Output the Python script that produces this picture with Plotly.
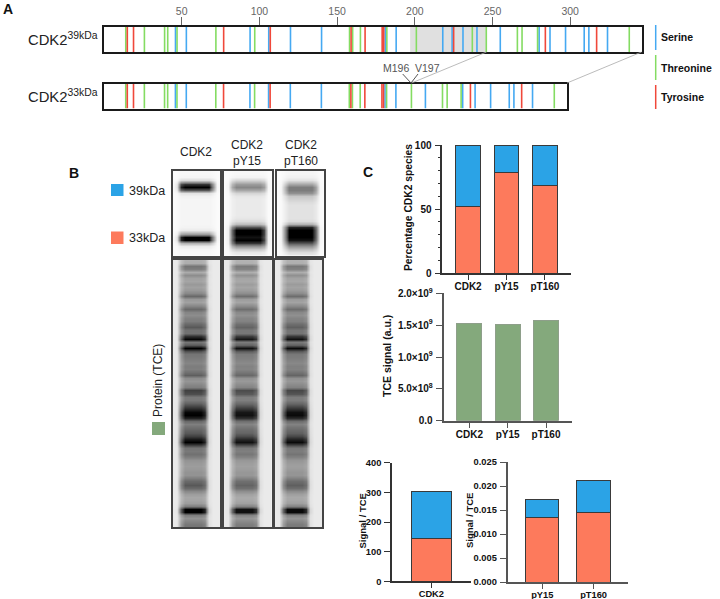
import numpy as np
import plotly.graph_objects as go

W, H = 720, 599
FONT = "Liberation Sans"
BLUE, SALMON, GREEN = "#2ba3e6", "#fd7a5c", "#84a97c"
SER, THR, TYR = "#45a9f2", "#84dc62", "#f0483a"

# ---------- panel A: residue positions ----------
long_ser = [46, 53, 94, 106, 120, 140, 181, 188, 218, 224, 231, 240, 255, 280, 287, 297, 309, 312, 324]
long_thr = [14, 26, 39, 41, 47, 72, 97, 158, 160, 165, 182, 201, 237, 246, 266, 269, 279, 338]
long_tyr = [15, 19, 77, 107, 159, 168, 179, 180, 225, 284, 317]
short_ser = [46, 53, 94, 106, 120, 140, 181, 188, 207, 231, 239, 249, 261, 264, 276]
short_thr = [14, 26, 39, 41, 47, 72, 97, 158, 160, 165, 182, 198, 218, 221, 230, 290]
short_tyr = [15, 19, 77, 107, 159, 168, 179, 180, 236, 269]
ruler_ticks = [50, 100, 150, 200, 250, 300]

# ---------- panel B: gel darkness read down each lane (rows every 3 px) ----------
blot_cdk2 = [.02,.02,.03,.15,.85,1,.75,.12,.05,.03,.03,.03,.03,.03,.03,.03,.03,.03,.04,.08,.45,1,1,.35,.08,.03,.02,.02]
blot_py15 = [.02,.02,.04,.18,.45,.55,.4,.18,.1,.08,.08,.08,.08,.08,.08,.1,.15,.3,.75,1,1,.95,1,.85,.5,.25,.1,.05]
blot_pt160 = [.03,.03,.05,.12,.4,.6,.6,.5,.25,.2,.15,.12,.12,.12,.12,.12,.15,.35,.9,1,1,1,.95,.75,.5,.3,.15,.07]
blot_widths = [
    [0,.1,.9,1,1,1,1,1,1,1,.55,.03,0],
    [0,.05,.7,1,1,1,1,1,1,1,.8,.05,0],
    [0,.03,.5,1,1,1,1,1,1,1,.7,.03,0],
]
tce_lane = [.30,.32,.6,.55,.33,.48,.38,.36,.42,.38,.42,.5,.66,.42,.38,.52,.66,.52,.48,.54,.56,.66,.72,.62,.62,
            .85,.98,.6,.72,1,.75,.6,.58,.55,.52,.56,.55,.62,.7,.48,.44,.5,.55,.8,.75,.58,.58,.68,.78,.88,.98,1,
            .9,.66,.55,.62,.68,.72,.8,.92,1,.8,.6,.58,.62,.55,.45,.42,.4,.42,.45,.45,.55,.66,.72,.66,.5,.4,.35,
            .36,.4,.55,1,1,.55,.45,.52,.58,.6]
tce_width = [0,.02,.7,1,1,1,1,1,.9,.1,0,0,0]
tce_gain = [1.0, .95, .97]

# ---------- panel C: bar values ----------
cats = ["CDK2", "pY15", "pT160"]
pct_33 = [51.8, 78.6, 68.5]
pct_39 = [48.2, 21.4, 31.5]
tce_signal = [1.529e9, 1.503e9, 1.576e9]
cdk2_33 = [142.7]
cdk2_39 = [159.3]
phospho_cats = ["pY15", "pT160"]
phospho_33 = [0.01347, 0.01444]
phospho_39 = [0.00375, 0.00666]

fig = go.Figure()
layout = {}
n_axes = [0]


def fx(p):
    return p / W


def fy(p):
    return 1 - p / H


def axes(x0, x1, y0, y1):
    n_axes[0] += 1
    i = n_axes[0]
    s = "" if i == 1 else str(i)
    return "x" + s, "y" + s, "xaxis" + s, "yaxis" + s, [fx(x0), fx(x1)], [fy(y1), fy(y0)]


def seq_panel(box, xmax, sets, ruler):
    xr, yr, xk, yk, dx, dy = axes(*box)
    for res, col in sets:
        xs, ys = [], []
        for r in res:
            xs += [r, r, None]
            ys += [0, 1, None]
        fig.add_trace(go.Scatter(x=xs, y=ys, xaxis=xr, yaxis=yr, mode="lines",
                                 line=dict(color=col, width=1.6), hoverinfo="skip"))
    layout[xk] = dict(domain=dx, range=[0, xmax], anchor=yr, side="top", showgrid=False, zeroline=False, automargin=False,
                      showline=True, mirror=True, linecolor="#1a1a1a", linewidth=1.6,
                      ticks="outside" if ruler else "", ticklen=8, tickcolor="#666", tickwidth=1,
                      ticklabelstandoff=-2,
                      tickvals=ruler_ticks if ruler else [], showticklabels=ruler,
                      tickfont=dict(size=10.5, color="#666", family=FONT))
    layout[yk] = dict(domain=dy, range=[0, 1], anchor=xr, showgrid=False, zeroline=False, showline=True, automargin=False,
                      mirror=True, linecolor="#1a1a1a", linewidth=1.6, ticks="", showticklabels=False)


seq_panel((104, 641.7, 26.5, 52), 346, [(long_ser, SER), (long_thr, THR), (long_tyr, TYR)], True)
seq_panel((104, 566.7, 83.5, 108.5), 298, [(short_ser, SER), (short_thr, THR), (short_tyr, TYR)], False)


def gel(box, rows, widths, bg):
    xr, yr, xk, yk, dx, dy = axes(*box)
    z = bg + (1 - bg) * np.outer(np.array(rows), np.array(widths))
    fig.add_trace(go.Heatmap(z=z, x=list(range(0, 4 * len(widths), 4)), y=list(range(len(rows))),
                             xaxis=xr, yaxis=yr, zmin=0, zmax=1, zsmooth="best", showscale=False,
                             colorscale=[[0, "#fbfbfb"], [0.35, "#b2b2b2"], [0.7, "#666666"], [0.9, "#242424"], [1, "#000000"]],
                             hoverinfo="skip"))
    layout[xk] = dict(domain=dx, range=[0, 4 * (len(widths) - 1)], anchor=yr, showgrid=False, zeroline=False, automargin=False,
                      showline=True, mirror=True, linecolor="#444", linewidth=1.5, ticks="", showticklabels=False)
    layout[yk] = dict(domain=dy, range=[len(rows) - 1, 0], anchor=xr, showgrid=False, zeroline=False, automargin=False,
                      showline=True, mirror=True, linecolor="#444", linewidth=1.5, ticks="", showticklabels=False)


for box, rows, w in zip([(172.7, 220.3), (224, 272), (276.7, 324)], [blot_cdk2, blot_py15, blot_pt160], blot_widths):
    gel((box[0], box[1], 171, 255.5), rows, w, 0.0)
for box, g in zip([(172.7, 220.3), (224, 271.7), (275, 322)], tce_gain):
    gel((box[0], box[1], 260, 527), [v * g for v in tce_lane], tce_width, 0.08)


def bar_panel(box, xvals, xrange, series, yrange, tickvals, ticktext, size=10, minor=None, edge="#3a3a3a",
              lw=1.5, lc="#333"):
    xr, yr, xk, yk, dx, dy = axes(*box)
    for vals, col in series:
        fig.add_trace(go.Bar(x=xvals, y=vals, xaxis=xr, yaxis=yr, marker=dict(color=col, line=dict(color=edge, width=1)),
                             width=0.65, hoverinfo="skip"))
    tf = dict(size=size, color="#111", family=FONT, weight="bold")
    layout[xk] = dict(domain=dx, range=xrange, anchor=yr, type="category", categoryorder="array", categoryarray=xvals,
                      showgrid=False, zeroline=False, showline=True, linecolor=lc, linewidth=lw, ticks="outside",
                      automargin=False, ticklen=5, tickwidth=1.4, tickcolor=lc, tickfont=tf, ticklabelstandoff=-2)
    yd = dict(domain=dy, range=yrange, anchor=xr, showgrid=False, zeroline=False, showline=True, linecolor=lc,
              automargin=False, linewidth=lw, ticks="outside", ticklen=6, tickwidth=1.4, tickcolor=lc, tickfont=tf,
              tickmode="array", tickvals=tickvals, ticktext=ticktext, ticklabelstandoff=1)
    if minor:
        yd["minor"] = dict(tickmode="array", tickvals=minor, ticks="outside", ticklen=3, tickwidth=1, tickcolor=lc)
    layout[yk] = yd


bar_panel((442.3, 570.7, 145, 273), cats, [-0.67, 2.67], [(pct_33, SALMON), (pct_39, BLUE)], [0, 100],
          [0, 50, 100], ["0", "50", "100"], minor=[10, 20, 30, 40, 60, 70, 80, 90])
bar_panel((443.7, 571.7, 293.3, 420.7), cats, [-0.67, 2.67], [(tce_signal, GREEN)], [0, 2e9],
          [0, 5e8, 1e9, 1.5e9, 2e9], ["0.0", "5.0×10<sup>8</sup>", "1.0×10<sup>9</sup>", "1.5×10<sup>9</sup>", "2.0×10<sup>9</sup>"],
          edge="#8e9f8a", lw=2, lc="#555")
bar_panel((392, 470.7, 462.7, 581.3), ["CDK2"], [-0.65, 0.65], [(cdk2_33, SALMON), (cdk2_39, BLUE)], [0, 400],
          [0, 100, 200, 300, 400], ["0", "100", "200", "300", "400"], size=9.3)
bar_panel((507.7, 627.7, 462, 582), phospho_cats, [-0.674, 1.665], [(phospho_33, SALMON), (phospho_39, BLUE)], [0, 0.025],
          [0, .005, .01, .015, .02, .025], ["0.000", "0.005", "0.010", "0.015", "0.020", "0.025"], size=9.3, lw=2, lc="#555")

ann = []


def txt(px, py, t, size=12, color="#222", anchor="center", bold=False, angle=0):
    ann.append(dict(xref="paper", yref="paper", x=fx(px), y=fy(py), text=t, showarrow=False, xanchor=anchor,
                    yanchor="middle", textangle=angle, font=dict(size=size, color=color, family=FONT,
                                                                 weight="bold" if bold else "normal")))


txt(1, 9, "A", 14, "#111", "left", True)
txt(67, 173, "B", 14, "#111", "left", True)
txt(361, 172, "C", 14, "#111", "left", True)
txt(100, 39, "CDK2<sup>39kDa</sup>", 14.8, "#222", "right")
txt(100, 96, "CDK2<sup>33kDa</sup>", 14.8, "#222", "right")
txt(396, 68, "M196", 10.5, "#555")
txt(427, 68, "V197", 10.5, "#555")
txt(658.5, 37.5, "Serine", 10.5, "#111", "left", True)
txt(658.5, 67.5, "Threonine", 10.5, "#111", "left", True)
txt(658.5, 97, "Tyrosine", 10.5, "#111", "left", True)
txt(196, 152, "CDK2", 12)
txt(247, 153, "CDK2<br>pY15", 12)
txt(300.5, 153, "CDK2<br>pT160", 12)
txt(127, 191, "39kDa", 12.5, anchor="left")
txt(127, 238, "33kDa", 12.5, anchor="left")
txt(158, 381, "Protein (TCE)", 12, angle=-90)
txt(409, 208, "Percentage CDK2 species", 10.3, "#111", bold=True, angle=-90)
txt(387, 356, "TCE signal (a.u.)", 10.5, "#111", bold=True, angle=-90)
txt(361.5, 521, "Signal / TCE", 9.5, "#111", bold=True, angle=-90)
txt(469, 521, "Signal / TCE", 9.5, "#111", bold=True, angle=-90)

shapes = []


def rect(x0, y0, x1, y1, col):
    shapes.append(dict(type="rect", xref="paper", yref="paper", x0=fx(x0), x1=fx(x1), y0=fy(y0), y1=fy(y1),
                       fillcolor=col, line=dict(width=0), layer="above"))


def seg(x0, y0, x1, y1, col, w=1):
    shapes.append(dict(type="line", xref="paper", yref="paper", x0=fx(x0), x1=fx(x1), y0=fy(y0), y1=fy(y1),
                       line=dict(color=col, width=w), layer="above"))


rect(111, 184, 123.5, 196, BLUE)
rect(111, 231.5, 123.5, 244, SALMON)
rect(152, 422, 165, 435, GREEN)
seg(655.7, 25, 655.7, 50, SER, 1.5)
seg(655.7, 55, 655.7, 80, THR, 1.5)
seg(655.7, 85, 655.7, 109, TYR, 1.5)
seg(486.5, 52, 411.5, 83, "#aaa", 0.8)
seg(641.5, 52, 567, 83, "#aaa", 0.8)
seg(402.7, 74, 411, 83, "#444", 0.9)
seg(411, 83, 418, 74, "#444", 0.9)
shapes.append(dict(type="rect", xref="x", yref="y", x0=197, x1=246.4, y0=0, y1=1, fillcolor="#e0e0e0",
                   line=dict(width=0), layer="below"))

fig.update_layout(width=W, height=H, margin=dict(l=0, r=0, t=0, b=0, pad=0), paper_bgcolor="white", plot_bgcolor="rgba(0,0,0,0)",
                  showlegend=False, barmode="stack", bargap=0.35, annotations=ann, shapes=shapes,
                  font=dict(family=FONT), **layout)
fig.write_html("out.html", config={"displayModeBar": False},
               post_script="document.body.style.margin='0';document.documentElement.style.overflow='hidden';")
